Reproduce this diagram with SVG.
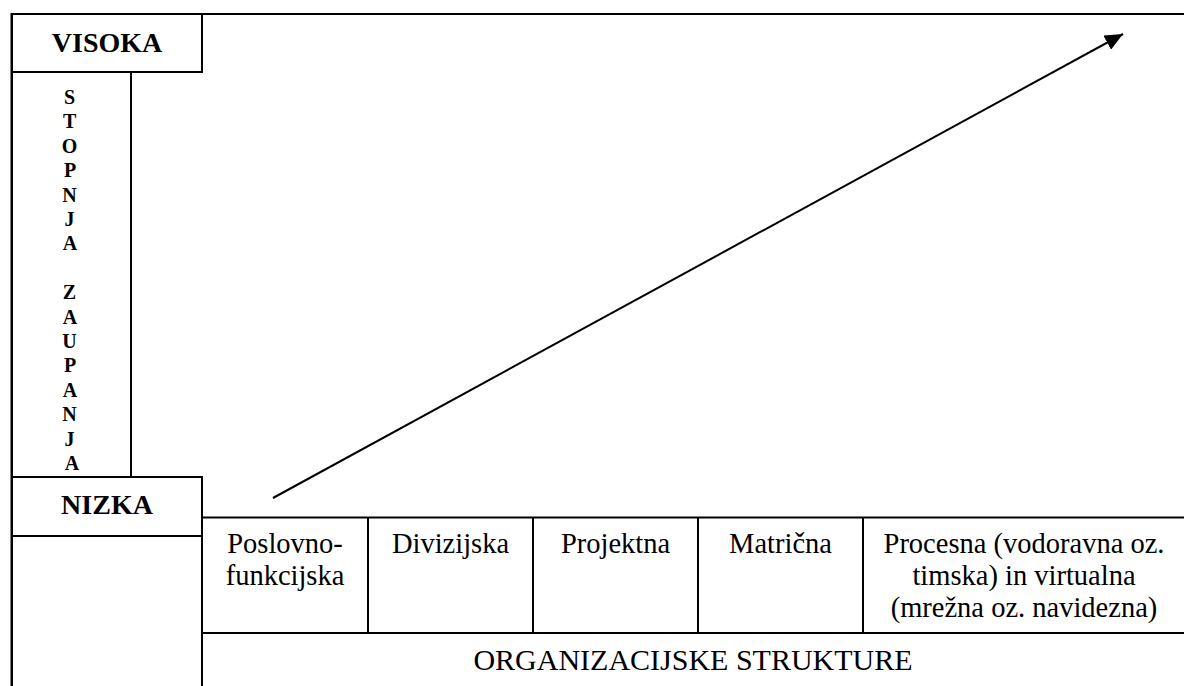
<svg xmlns="http://www.w3.org/2000/svg" width="1184" height="686" viewBox="0 0 1184 686" font-family="'Liberation Serif', 'Times New Roman', serif">
<defs>
<style>
.ln{stroke:#000;stroke-width:2;fill:none}
.bx{stroke:#000;stroke-width:2;fill:#fff}
.t{fill:#000}
.hd{font-size:28px;font-weight:bold;text-anchor:middle}
.vl{font-size:20px;font-weight:bold;text-anchor:middle}
.cl{font-size:28.5px;text-anchor:middle}
.ft{font-size:30px;text-anchor:middle}
</style>
<marker id="ah" markerUnits="userSpaceOnUse" markerWidth="18" markerHeight="16" refX="18" refY="8" orient="auto">
<path d="M0,0 L18,8 L0,16 z" fill="#000"/>
</marker>
</defs>
<rect width="1184" height="686" fill="#fff"/>
<g id="frame">
<line class="ln" x1="12" y1="14" x2="1184" y2="14"/>
<line class="ln" x1="12" y1="13" x2="12" y2="686" style="stroke-width:3"/>
</g>
<g id="visoka">
<rect class="bx" x="12" y="14" width="190" height="58"/>
<text class="t hd" x="107" y="52" font-family="Liberation Serif, serif">VISOKA</text>
</g>
<g id="stopnja">
<rect class="bx" x="12" y="72" width="119" height="405"/>
<text class="t vl" font-family="Liberation Serif, serif">
<tspan x="72" y="104">S</tspan>
<tspan x="72" y="128.4">T</tspan>
<tspan x="72" y="152.8">O</tspan>
<tspan x="72" y="177.2">P</tspan>
<tspan x="72" y="201.6">N</tspan>
<tspan x="72" y="226">J</tspan>
<tspan x="72" y="250.4">A</tspan>
<tspan x="72" y="299.2">Z</tspan>
<tspan x="72" y="323.6">A</tspan>
<tspan x="72" y="348">U</tspan>
<tspan x="72" y="372.4">P</tspan>
<tspan x="72" y="396.8">A</tspan>
<tspan x="72" y="421.2">N</tspan>
<tspan x="72" y="445.6">J</tspan>
<tspan x="72" y="470">A</tspan>
</text>
</g>
<g id="nizka">
<rect class="bx" x="12" y="477" width="190" height="59"/>
<text class="t hd" x="107" y="514" font-family="Liberation Serif, serif">NIZKA</text>
</g>
<g id="blank">
<rect class="bx" x="12" y="536" width="190" height="160"/>
</g>
<g id="table">
<line class="ln" x1="202" y1="517.5" x2="1184" y2="517.5"/>
<line class="ln" x1="202" y1="633" x2="1184" y2="633"/>
<line class="ln" x1="202" y1="517" x2="202" y2="686"/>
<line class="ln" x1="368" y1="517" x2="368" y2="633"/>
<line class="ln" x1="533" y1="517" x2="533" y2="633"/>
<line class="ln" x1="698" y1="517" x2="698" y2="633"/>
<line class="ln" x1="863" y1="517" x2="863" y2="633"/>
</g>
<g id="c1"><text class="t cl" x="285" y="553" font-family="Liberation Serif, serif">Poslovno-<tspan x="285" y="585">funkcijska</tspan></text></g>
<g id="c2"><text class="t cl" x="450.5" y="553" font-family="Liberation Serif, serif">Divizijska</text></g>
<g id="c3"><text class="t cl" x="615.5" y="553" font-family="Liberation Serif, serif">Projektna</text></g>
<g id="c4"><text class="t cl" x="780.5" y="553" font-family="Liberation Serif, serif">Matrična</text></g>
<g id="c5"><text class="t cl" x="1024" y="553" font-family="Liberation Serif, serif">Procesna (vodoravna oz.<tspan x="1024" y="585">timska) in virtualna</tspan><tspan x="1024" y="617">(mrežna oz. navidezna)</tspan></text></g>
<g id="footer"><text class="t ft" x="693" y="670" font-family="Liberation Serif, serif">ORGANIZACIJSKE STRUKTURE</text></g>
<g id="connectors">
<line class="ln" x1="273" y1="498" x2="1123" y2="34" marker-end="url(#ah)"/>
</g>
</svg>
